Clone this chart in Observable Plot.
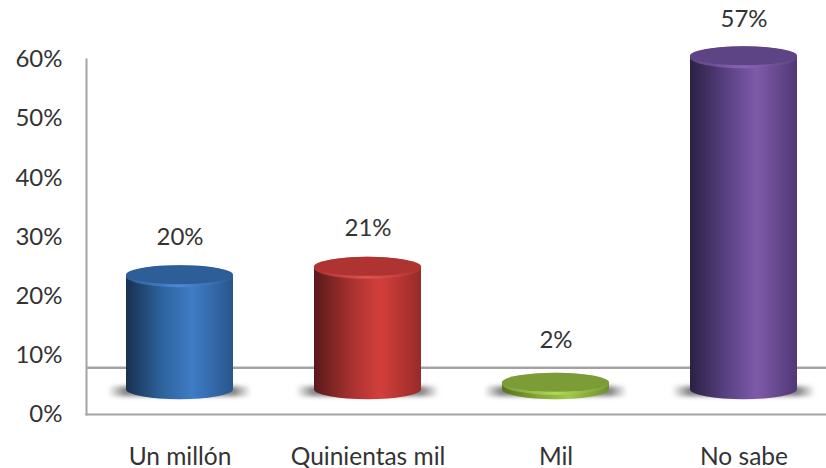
<!DOCTYPE html>
<html>
<head>
<meta charset="utf-8">
<script src="https://cdn.jsdelivr.net/npm/d3@7"></script>
<script src="https://cdn.jsdelivr.net/npm/@observablehq/plot@0.6"></script>
<style>
html,body{margin:0;padding:0;background:#fff}
svg{display:block;overflow:visible}
</style>
</head>
<body>
<div id="chart"></div>
<script>
const categories = ["Un millón", "Quinientas mil", "Mil", "No sabe"];
const values = [20, 21, 2, 57];
// heights of the cylinder tops and of their labels, read against the picture's axis
const topLevels = [23.3, 24.7, 5.1, 60.3];
const labelLevels = [30.0, 31.5, 12.5, 66.8];
const floorLevel = 4.2;
const yTicks = [0, 10, 20, 30, 40, 50, 60];
const wallLevel = 7.9;

const bodyColors = [
  ["#17304f", "#2f659f", "#3e7cc6", "#28568c"],
  ["#571a18", "#a83230", "#d33f3b", "#962b29"],
  ["#56731e", "#86a838", "#a2c84a", "#6f8e2c"],
  ["#2c2043", "#5a4284", "#7f5aa9", "#513876"]
];
const capColors = ["#2d5e98", "#ae3331", "#7c9c38", "#5d4484"];
const lipColors = ["#4a8ad4", "#dc5450", "#b0d858", "#8a64b4"];

const fontFamily = "Lato, 'Open Sans', sans-serif";
const axisColor = "#a3a3a3";

const rows = categories.map((category, i) => ({
  category, i, value: values[i], top: topLevels[i], label: labelLevels[i]
}));

function defs() {
  const g = document.createElementNS("http://www.w3.org/2000/svg", "defs");
  g.innerHTML = bodyColors.map((c, i) => `
    <linearGradient id="body${i}" x1="0" x2="1" y1="0" y2="0">
      <stop offset="0" stop-color="${c[0]}"/>
      <stop offset="0.35" stop-color="${c[1]}"/>
      <stop offset="0.62" stop-color="${c[2]}"/>
      <stop offset="1" stop-color="${c[3]}"/>
    </linearGradient>
    <linearGradient id="lip${i}" x1="0" x2="1" y1="0" y2="0">
      <stop offset="0" stop-color="${capColors[i]}"/>
      <stop offset="0.5" stop-color="${lipColors[i]}"/>
      <stop offset="1" stop-color="${capColors[i]}"/>
    </linearGradient>`).join("") + `
    <linearGradient id="shadow" x1="0" x2="1" y1="0" y2="0">
      <stop offset="0" stop-color="#777" stop-opacity="0"/>
      <stop offset="0.12" stop-color="#777" stop-opacity="0.9"/>
      <stop offset="0.88" stop-color="#777" stop-opacity="0.9"/>
      <stop offset="1" stop-color="#777" stop-opacity="0"/>
    </linearGradient>`;
  return g;
}

const idx = (prefix) => ({value: (d) => `url(#${prefix}${d.i})`, scale: null});

const plot = Plot.plot({
  width: 826,
  height: 468,
  marginLeft: 86,
  marginRight: 0,
  marginTop: 59,
  marginBottom: 54,
  style: {background: "#fff", fontFamily, color: "#333"},
  x: {domain: categories, range: [86, 838], paddingInner: 0.43, paddingOuter: 0.215, label: null},
  y: {domain: [0, 60], label: null},
  marks: [
    defs,
    Plot.ruleY([wallLevel], {stroke: axisColor, strokeWidth: 2.5}),
    Plot.frame({anchor: "left", stroke: axisColor, strokeWidth: 2}),
    Plot.frame({anchor: "bottom", stroke: axisColor, strokeWidth: 2}),
    Plot.axisY({
      ticks: yTicks, tickSize: 0, tickPadding: 24, fontSize: 24,
      tickFormat: (d) => `${d}%`, fill: "#333", label: null
    }),
    Plot.axisX({
      tickSize: 0, tickPadding: 33, fontSize: 24.5, fill: "#333", label: null
    }),
    // floor shadow
    Plot.barY(rows, {
      x: "category", y1: floorLevel - 0.35, y2: floorLevel - 0.35,
      insetTop: -5, insetBottom: -5, insetLeft: -18, insetRight: -18,
      fill: "url(#shadow)", imageFilter: "blur(2px)"
    }),
    // cylinder wall
    Plot.barY(rows, {
      x: "category", y1: floorLevel, y2: "top", fill: idx("body")
    }),
    // rounded foot
    Plot.barY(rows, {
      x: "category", y1: floorLevel, y2: floorLevel,
      insetTop: -10, insetBottom: -10, rx: 200, ry: 200, fill: idx("body")
    }),
    // rim highlight
    Plot.barY(rows, {
      x: "category", y1: "top", y2: "top",
      insetTop: -11, insetBottom: -11, rx: 200, ry: 200,
      fill: idx("lip")
    }),
    // top cap
    Plot.barY(rows, {
      x: "category", y1: "top", y2: "top",
      insetTop: -11, insetBottom: -8, rx: 200, ry: 200,
      fill: {value: (d) => capColors[d.i], scale: null}
    }),
    Plot.text(rows, {
      x: "category", y: "label", text: (d) => `${d.value}%`,
      fontSize: 24, fill: "#333"
    })
  ]
});
document.getElementById("chart").append(plot);
</script>
</body>
</html>
